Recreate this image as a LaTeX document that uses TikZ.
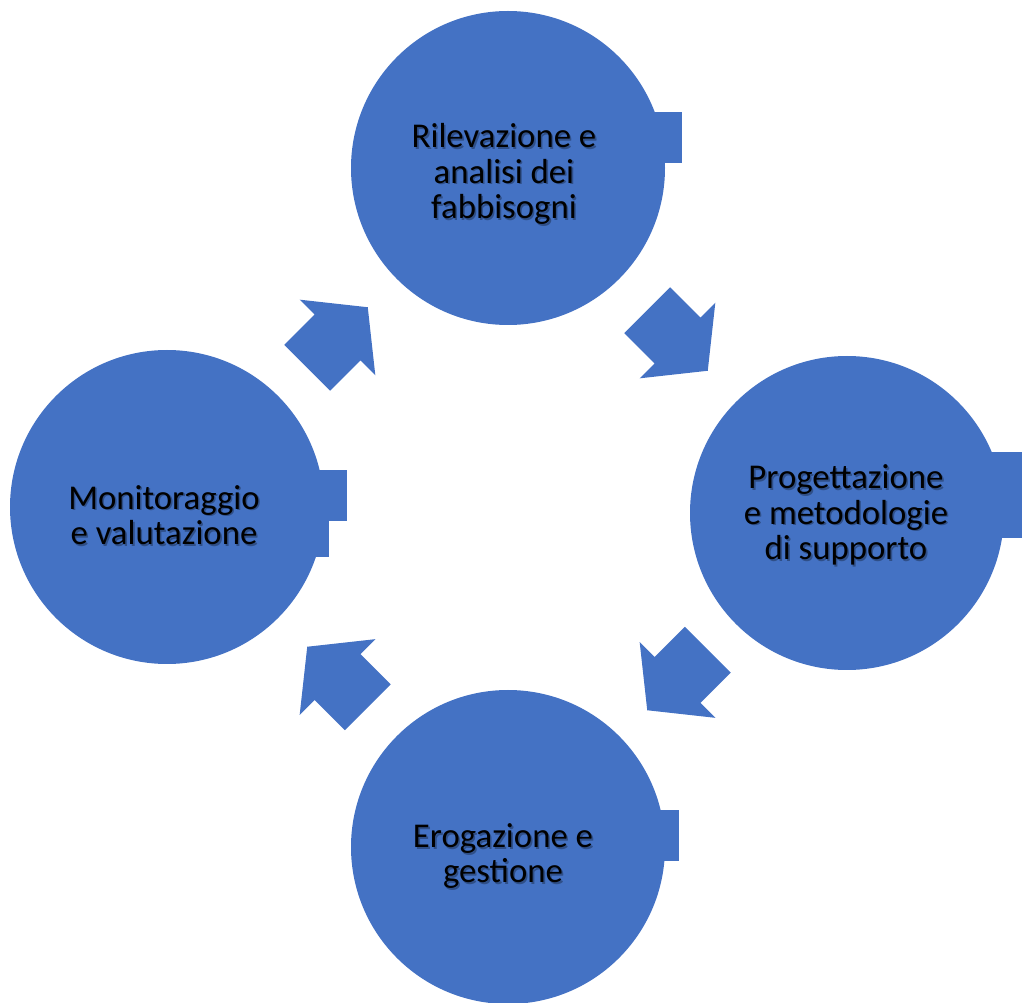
\documentclass[tikz,border=0pt]{standalone}
\usepackage{fontspec}
\setmainfont{Carlito}
\usetikzlibrary{calc}
\definecolor{cycblue}{HTML}{4472C4}
\tikzset{
  phase/.style={circle, fill=cycblue, minimum size=314*0.02cm, inner sep=0pt},
  tab/.style={fill=cycblue},
  lbl/.style={align=center, text=black, font=\fontsize{19.8}{20.2}\selectfont, inner sep=0pt},
  lblshadow/.style={lbl, text=black, opacity=0.3},
  cycarrow/.pic={
    \fill[cycblue] (-42.8,32.5) -- (0,32.5) -- (0,53.5) -- (42.8,0)
      -- (0,-53.5) -- (0,-32.5) -- (-42.8,-32.5) -- cycle;
  }
}
% label with a soft drop shadow
\newcommand\phaselabel[3]{%
  \node[lblshadow] at ($(#1)+(1.6,1.8)$) {#3};
  \node[lbl] (#2) at (#1) {#3};
}
\begin{document}
\begin{tikzpicture}[x=0.02cm, y=-0.02cm]
\useasboundingbox (0,0) rectangle (1022,1003);

% the four phases
\node[phase] (rilev) at (508,168) {};
\node[phase] (prog)  at (847,513) {};
\node[phase] (erog)  at (508,847) {};
\node[phase] (monit) at (167,507) {};

% square tabs on the right side of each circle
\fill[tab] (640,112) rectangle (682,163);
\fill[tab] (980,452) rectangle (1022,538);
\fill[tab] (300,470) rectangle (347,521);
\fill[tab] (300,521) rectangle (329,557);
\fill[tab] (640,810) rectangle (679,861);

% text positions
\coordinate (rilevT) at (504,174);
\coordinate (progT)  at (846,515);
\coordinate (erogT)  at (503,856);
\coordinate (monitT) at (164,515);

\phaselabel{rilevT}{rilevL}{Rilevazione e\\analisi dei\\fabbisogni}
\phaselabel{progT}{progL}{Progettazione\\e metodologie\\di supporto}
\phaselabel{erogT}{erogL}{Erogazione e\\gestione}
\phaselabel{monitT}{monitL}{Monitoraggio\\e valutazione}

% clockwise block arrows between the phases
\pic[rotate=-45]  at ($(rilev)!0.5!(prog)$)  {cycarrow};
\pic[rotate=-135] at ($(prog)!0.5!(erog)$)   {cycarrow};
\pic[rotate=135]  at ($(erog)!0.5!(monit)$)  {cycarrow};
\pic[rotate=45]   at ($(monit)!0.5!(rilev)$) {cycarrow};
\end{tikzpicture}
\end{document}
